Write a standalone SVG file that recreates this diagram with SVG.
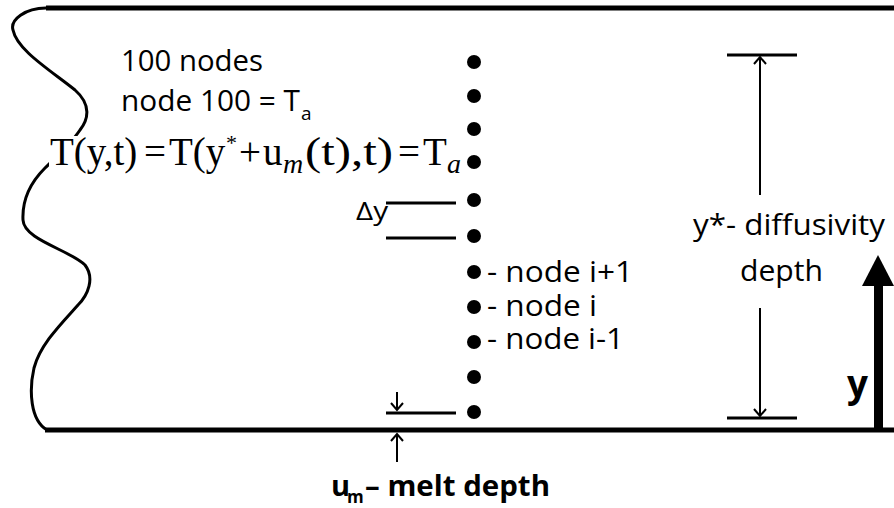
<svg xmlns="http://www.w3.org/2000/svg" width="894" height="508" viewBox="0 0 894 508">
<style>
.lbl{font-family:"Open Sans","Liberation Sans",sans-serif;font-size:29px;fill:#000}
.bld{font-weight:bold}
.eq{font-family:"Liberation Serif","DejaVu Serif",serif;font-size:39px;fill:#000}
.it{font-style:italic}
.thick{stroke:#000;stroke-width:5;fill:none}
.mid{stroke:#000;stroke-width:3;fill:none}
.thin{stroke:#000;stroke-width:2;fill:none}
.dot{fill:#000}
</style>
<defs>
<marker id="open" viewBox="-9 -8 11 16" markerWidth="11" markerHeight="16" refX="0" refY="0" orient="auto" markerUnits="userSpaceOnUse">
<path d="M-7,-6 L0,0 L-7,6" fill="none" stroke="#000" stroke-width="2"/>
</marker>
</defs>
<rect width="894" height="508" fill="#fff"/>

<g id="boundary">
<line class="thick" x1="46" y1="8" x2="894" y2="8"/>
<line class="thick" x1="45" y1="430" x2="894" y2="430"/>
<path class="mid" d="M46,8 C25,8 10,20 13,30 C17,50 50,70 75,90 C92,105 88,120 80,130 C70,145 55,158 45,168 C30,183 22,200 23,220 C24,240 70,250 85,265 C95,278 88,295 78,305 C60,325 40,345 34,368 C29,390 30,420 47,430"/>
</g>

<g id="equation">
<rect x="49" y="136" width="416" height="40" fill="#fff"/>
<text class="eq" y="165"><tspan x="50">T(y,t)</tspan><tspan x="144">=</tspan><tspan x="169">T(y</tspan><tspan x="226" y="150" style="font-size:22px">*</tspan><tspan x="239" y="165">+</tspan><tspan x="263">u</tspan><tspan x="283" y="173" class="it" style="font-size:28px">m</tspan><tspan x="305" y="165" textLength="88" lengthAdjust="spacingAndGlyphs">(t),t)</tspan><tspan x="398">=</tspan><tspan x="423">T</tspan><tspan x="447" y="173" class="it" style="font-size:28px">a</tspan></text>
</g>

<g id="info">
<text class="lbl" x="121" y="71" textLength="142" lengthAdjust="spacingAndGlyphs">100 nodes</text>
<text class="lbl" x="121" y="111"><tspan textLength="179" lengthAdjust="spacingAndGlyphs">node 100 = T</tspan><tspan x="301" y="120" style="font-size:19px">a</tspan></text>
</g>

<g id="nodes">
<circle class="dot" cx="474" cy="62" r="7"/>
<circle class="dot" cx="474" cy="96" r="7"/>
<circle class="dot" cx="474" cy="129" r="7"/>
<circle class="dot" cx="474" cy="162" r="7"/>
<circle class="dot" cx="474" cy="200" r="7"/>
<circle class="dot" cx="474" cy="236" r="7"/>
<circle class="dot" cx="474" cy="272" r="7"/>
<circle class="dot" cx="474" cy="307" r="7"/>
<circle class="dot" cx="474" cy="342" r="7"/>
<circle class="dot" cx="474" cy="377" r="7"/>
<circle class="dot" cx="474" cy="412" r="7"/>
</g>

<g id="node-labels">
<text class="lbl" x="487" y="282" textLength="146" lengthAdjust="spacingAndGlyphs">- node i+1</text>
<text class="lbl" x="487" y="316" textLength="110" lengthAdjust="spacingAndGlyphs">- node i</text>
<text class="lbl" x="487" y="349" textLength="137" lengthAdjust="spacingAndGlyphs">- node i-1</text>
</g>

<g id="delta-y">
<line class="mid" x1="386" y1="203" x2="456" y2="203"/>
<line class="mid" x1="386" y1="238" x2="456" y2="238"/>
<text class="lbl" x="356" y="220" style="font-size:25px" textLength="32" lengthAdjust="spacingAndGlyphs">Δy</text>
</g>

<g id="melt-depth">
<line class="mid" x1="386" y1="413" x2="456" y2="413"/>
<text class="lbl bld" y="496"><tspan x="331">u</tspan><tspan x="347" y="503" style="font-size:17px">m</tspan><tspan x="365" y="496" textLength="185" lengthAdjust="spacingAndGlyphs">– melt depth</tspan></text>
</g>

<g id="diffusivity-depth">
<line class="mid" x1="727" y1="55" x2="797" y2="55"/>
<line class="mid" x1="727" y1="418" x2="797" y2="418"/>
<text class="lbl" x="693" y="235" textLength="192" lengthAdjust="spacingAndGlyphs">y*- diffusivity</text>
<text class="lbl" x="740" y="281" textLength="83" lengthAdjust="spacingAndGlyphs">depth</text>
</g>

<g id="axis-y">
<rect x="874" y="284" width="9" height="146" fill="#000"/>
<polygon points="878,255 862,286 894,286" fill="#000"/>
<text class="lbl bld" x="847" y="397" style="font-size:38px" textLength="21" lengthAdjust="spacingAndGlyphs">y</text>
</g>

<g id="connectors">
<path class="thin" d="M760,195 L760,57" marker-end="url(#open)"/>
<path class="thin" d="M760,308 L760,416" marker-end="url(#open)"/>
<path class="thin" d="M397,392 L397,410" marker-end="url(#open)"/>
<path class="thin" d="M397,462 L397,434" marker-end="url(#open)"/>
</g>
</svg>
